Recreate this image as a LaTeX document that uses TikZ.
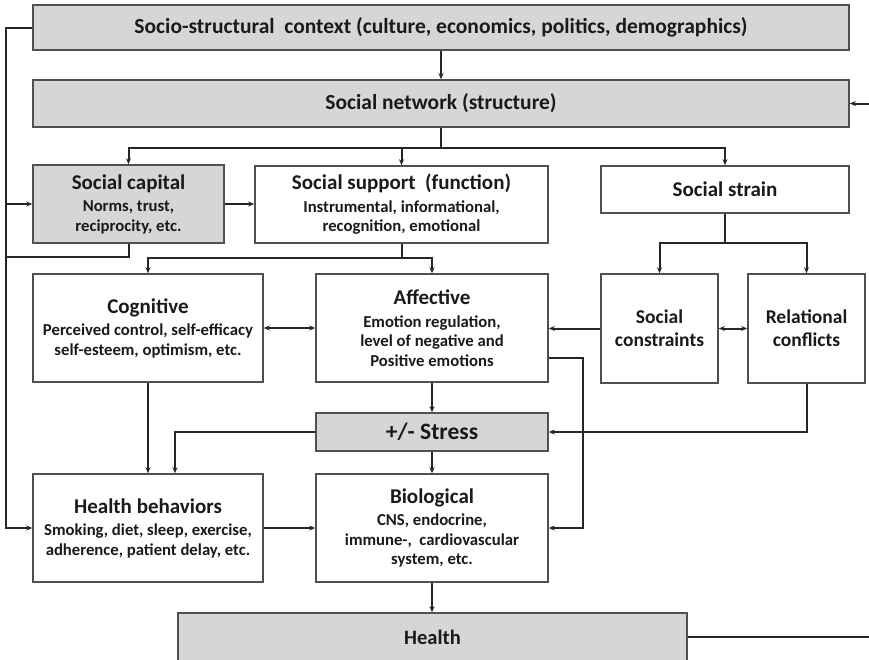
\documentclass[tikz,border=0pt]{standalone}
\usepackage{fontspec}
\setmainfont{Carlito}
\usetikzlibrary{arrows.meta,calc}
\definecolor{boxline}{HTML}{505050}
\definecolor{linecol}{HTML}{262626}
\definecolor{shade}{HTML}{D6D6D6}
\definecolor{txt}{HTML}{1A1A1A}
\tikzset{
  box/.style={draw=boxline, line width=1.6pt, fill=white, inner sep=0pt, align=center, text=txt, font=\bfseries\fontsize{16.7}{19.5}\selectfont},
  graybox/.style={box, fill=shade},
  arr/.style={draw=linecol, line width=2pt, -{Stealth[length=6pt,width=5pt]}},
  darr/.style={draw=linecol, line width=2pt, {Stealth[length=6pt,width=5pt]}-{Stealth[length=6pt,width=5pt]}},
  ln/.style={draw=linecol, line width=2pt},
}
\newcommand{\myhd}{\fontsize{21}{24}\selectfont}
\begin{document}
\begin{tikzpicture}[x=1pt,y=-1pt]
\useasboundingbox (0,0) rectangle (869,659);
\fill[white] (0,0) rectangle (869,659);
% boxes
\node[graybox, minimum width=816pt, minimum height=45pt, font=\bfseries\fontsize{21.5}{24}\selectfont] (ctx) at (441,27.5) {Socio-structural\ \ context (culture,\ economics,\ politics,\ demographics)};
\node[graybox, minimum width=816pt, minimum height=47pt, font=\bfseries\fontsize{21.5}{24}\selectfont] (net) at (441,103.5) {Social network (structure)};
\node[graybox, minimum width=191pt, minimum height=78pt] (cap) at (128.5,204) {{\myhd Social capital}\\[3pt]Norms, trust,\\reciprocity, etc.};
\node[box, minimum width=293pt, minimum height=77pt] (sup) at (401.5,204.5) {{\myhd Social support\ \ (function)}\\[3pt]Instrumental, informational,\\recognition, emotional};
\node[box, minimum width=248pt, minimum height=47pt] (strain) at (725,189.5) {{\myhd Social strain}};
\node[box, minimum width=230pt, minimum height=108pt] (cog) at (148,328) {{\myhd Cognitive}\\[3pt]Perceived control, self-efficacy\\self-esteem, optimism, etc.};
\node[box, minimum width=232pt, minimum height=108pt] (aff) at (432,328) {{\myhd Affective}\\[3pt]Emotion regulation,\\level of negative and\\Positive emotions};
\node[box, minimum width=117pt, minimum height=109pt, font=\bfseries\fontsize{19.5}{23}\selectfont] (cons) at (659.5,328.5) {Social\\constraints};
\node[box, minimum width=117pt, minimum height=109pt, font=\bfseries\fontsize{19.5}{23}\selectfont] (conf) at (806.5,328.5) {Relational\\conflicts};
\node[graybox, minimum width=232pt, minimum height=38pt, font=\bfseries\fontsize{23.5}{26}\selectfont] (stress) at (432,432) {+/- Stress};
\node[box, minimum width=230pt, minimum height=108pt] (hb) at (148,528) {{\myhd Health behaviors}\\[3pt]Smoking, diet, sleep, exercise,\\adherence, patient delay, etc.};
\node[box, minimum width=232pt, minimum height=108pt] (bio) at (432,528) {{\myhd Biological}\\[3pt]CNS, endocrine,\\immune-,\ \ cardiovascular\\system, etc.};
\node[graybox, minimum width=509pt, minimum height=48pt, font=\bfseries\fontsize{20.5}{24}\selectfont] (health) at (432.5,637) {Health};
% helper coordinates
\coordinate (L) at (7,0);
\coordinate (R) at (869,0);
\coordinate (capj) at (7,257);
% connectors
\draw[arr] (ctx.west) -- ++(-26,0) |- (hb.west);
\draw[arr] (cap.west -| L) -- (cap.west);
\draw[ln] (cap.south) |- (capj);
\draw[arr] (ctx.south) -- (net.north);
\draw[arr] (net.east -| R) -- (net.east);
\draw[ln] (net.south) -- ++(0,20) coordinate (nb);
\draw[arr] (nb) -| (cap.north);
\draw[arr] (nb) -| (sup.north);
\draw[arr] (nb) -| (strain.north);
\draw[arr] (cap.east) -- (cap.east -| sup.west);
\draw[ln] (sup.south) -- ++(0,14) coordinate (sb);
\draw[arr] (sb) -| (cog.north);
\draw[arr] (sb) -| (aff.north);
\draw[darr] (cog.east) -- (aff.west);
\draw[ln] (strain.south) -- ++(0,29) coordinate (ssb);
\draw[arr] (ssb) -| (cons.north);
\draw[arr] (ssb) -| (conf.north);
\draw[darr] (cons.east) -- (conf.west);
\draw[arr] (cons.west) -- (cons.west -| aff.east);
\draw[arr] ($(aff.east)+(0,30)$) -- ++(34,0) |- (bio.east);
\draw[arr] (aff.south) -- (stress.north);
\draw[arr] (conf.south) |- (stress.east);
\draw[arr] (stress.west) -| ($(hb.north)+(27,0)$);
\draw[arr] (cog.south) -- (hb.north);
\draw[arr] (hb.east) -- (bio.west);
\draw[arr] (stress.south) -- (bio.north);
\draw[arr] (bio.south) -- (bio.south |- health.north);
\draw[ln] (health.east) -- (health.east -| R);
\end{tikzpicture}
\end{document}
